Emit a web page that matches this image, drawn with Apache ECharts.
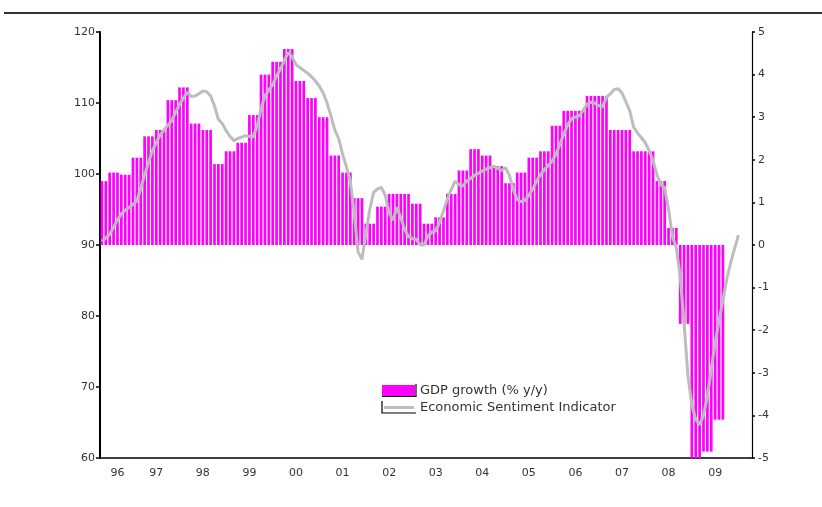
<!DOCTYPE html>
<html>
<head>
<meta charset="utf-8">
<script src="https://cdn.jsdelivr.net/npm/echarts@6/dist/echarts.min.js"></script>
<style>
html, body { margin: 0; padding: 0; background: #fff; }
#chart { width: 822px; height: 507px; }
</style>
</head>
<body>
<div id="chart"></div>
<script>
// Monthly axis: May 1996 .. Apr 2010
var firstYear = 1996, firstMonth = 5, monthCount = 168;

var yearLabels = ['96', '97', '98', '99', '00', '01', '02', '03', '04', '05', '06', '07', '08', '09'];

// GDP growth, % y/y, quarterly from Q2 1996 to Q3 2009 (right axis)
var gdpQuarterly = [
    1.5, 1.7, 1.65,
    2.05, 2.55, 2.7, 3.4,
    3.7, 2.85, 2.7, 1.9,
    2.2, 2.4, 3.05, 4.0,
    4.3, 4.6, 3.85, 3.45,
    3.0, 2.1, 1.7, 1.1,
    0.5, 0.9, 1.2, 1.2,
    0.97, 0.5, 0.65, 1.2,
    1.75, 2.25, 2.1, 1.85,
    1.45, 1.7, 2.05, 2.2,
    2.8, 3.15, 3.15, 3.5,
    3.5, 2.7, 2.7, 2.2,
    2.2, 1.5, 0.4, -1.85,
    -5.0, -4.85, -4.1
];

// Economic Sentiment Indicator, monthly from May 1996 to Jan 2010 (left axis)
var esiMonthly = [
    90.5, 91.0, 91.5, 92.5, 93.5, 94.4, 94.9, 95.3, 95.7, 96.2,
    98.0, 99.9, 101.6, 103.3, 104.4, 105.5, 106.2, 106.9, 107.5, 108.7,
    109.8, 110.7, 111.5, 110.9, 111.0, 111.3, 111.7, 111.6, 111.0, 109.6,
    107.7, 107.1, 106.1, 105.3, 104.7, 105.0, 105.2, 105.4, 105.3, 105.2,
    106.8, 109.2, 111.0, 111.8, 112.6, 113.8, 114.8, 116.0, 117.1, 116.5,
    115.4, 115.0, 114.6, 114.2, 113.7, 113.1, 112.4, 111.4, 110.0, 108.2,
    106.2, 105.0, 102.8, 101.0, 99.0, 94.5, 89.0, 88.0, 91.5, 95.0,
    97.4, 97.9, 98.1, 97.0, 94.5, 93.5, 95.3, 93.8, 92.2, 91.2,
    90.9, 90.8, 90.0, 90.0, 91.3, 91.8, 92.0, 93.2, 94.8, 96.5,
    97.8, 99.0, 98.5, 98.3, 99.0, 99.4, 99.8, 100.1, 100.4, 100.7,
    100.9, 101.1, 100.8, 100.5, 100.9, 99.8, 97.8, 96.4, 96.1, 96.3,
    97.0, 97.9, 99.0, 99.9, 100.6, 101.2, 101.8, 102.8, 104.2, 105.6,
    106.9, 107.8, 108.0, 108.2, 109.0, 109.8, 110.1, 110.0, 109.6, 109.5,
    110.8, 111.3, 111.9, 112.0, 111.4, 110.2, 108.9, 106.6, 105.8, 105.1,
    104.4, 103.3, 101.9, 99.9, 98.5, 98.1, 95.0, 91.2, 89.6, 85.5,
    79.0, 71.5, 67.5, 65.4, 64.7, 66.0, 68.7, 72.5, 76.2, 79.3,
    82.2, 85.2, 87.5, 89.5, 91.4
];

// month categories like '1996-05'
var months = [];
for (var i = 0; i < monthCount; i++) {
    var t = (firstMonth - 1) + i;
    var y = firstYear + Math.floor(t / 12);
    var m = (t % 12) + 1;
    months.push(y + '-' + (m < 10 ? '0' + m : m));
}

// each quarter's value shown for its months (first quarter only has May, Jun)
var gdpMonthly = [];
gdpQuarterly.forEach(function (v, q) {
    var n = q === 0 ? 2 : 3;
    for (var k = 0; k < n; k++) gdpMonthly.push(v);
});

// year label sits in the middle of the visible part of each year
var labelAt = {};
yearLabels.forEach(function (lab, k) {
    var yr = firstYear + k;
    labelAt[yr + (yr === firstYear ? '-09' : '-07')] = lab;
});

var myChart = echarts.init(document.getElementById('chart'));

var axisFont = { fontFamily: 'DejaVu Sans', fontSize: 11, color: '#333' };

var option = {
    animation: false,
    backgroundColor: '#fff',
    grid: { left: 100, right: 70, top: 32, bottom: 49 },
    legend: {
        orient: 'vertical',
        left: 382,
        top: 384,
        padding: 0,
        itemWidth: 33,
        itemHeight: 11,
        itemGap: 4,
        textStyle: { fontFamily: 'DejaVu Sans', fontSize: 13, color: '#333' },
        data: [
            { name: 'GDP growth (% y/y)', icon: 'rect' },
            {
                name: 'Economic Sentiment Indicator',
                icon: 'path://M0,0 L0.01,0 L0.01,0.01 Z M33,11 L32.99,11 L32.99,10.99 Z M2,4 L32,4 L32,7 L2,7 Z'
            }
        ]
    },
    graphic: [
        { type: 'line', shape: { x1: 4, y1: 13, x2: 822, y2: 13 }, style: { stroke: '#333', lineWidth: 2 } },
        { type: 'polyline', shape: { points: [[382, 396.5], [416, 396.5], [416, 384]] }, style: { stroke: '#000', lineWidth: 1.2, fill: null } },
        { type: 'polyline', shape: { points: [[382, 401], [382, 413], [416, 413]] }, style: { stroke: '#000', lineWidth: 1.2, fill: null } }
    ],
    xAxis: {
        type: 'category',
        data: months,
        boundaryGap: true,
        axisLine: { onZero: false, lineStyle: { color: '#000', width: 1.5 } },
        axisTick: {
            interval: function (i, v) { return v.slice(5) === '01'; },
            length: 4,
            lineStyle: { color: '#000', width: 1.5 }
        },
        axisLabel: Object.assign({
            interval: function (i, v) { return labelAt[v] !== undefined; },
            formatter: function (v) { return labelAt[v] || ''; },
            margin: 10
        }, axisFont),
        splitLine: { show: false }
    },
    yAxis: [
        {
            type: 'value',
            min: 60, max: 120, interval: 10,
            position: 'left',
            axisLine: { show: true, lineStyle: { color: '#000', width: 2 } },
            axisTick: { show: true, length: 4, lineStyle: { color: '#000', width: 1.5 } },
            axisLabel: Object.assign({ margin: 5 }, axisFont),
            splitLine: { show: false }
        },
        {
            type: 'value',
            min: -5, max: 5, interval: 1,
            position: 'right',
            axisLine: { show: true, lineStyle: { color: '#000', width: 1.2 } },
            axisTick: { show: true, length: 3, lineStyle: { color: '#000', width: 1.5 } },
            axisLabel: Object.assign({ margin: 6 }, axisFont),
            splitLine: { show: false }
        }
    ],
    series: [
        {
            name: 'GDP growth (% y/y)',
            type: 'bar',
            yAxisIndex: 1,
            data: gdpMonthly,
            barCategoryGap: '30%',
            itemStyle: { color: '#ff00ff', borderWidth: 0 }
        },
        {
            name: 'Economic Sentiment Indicator',
            type: 'line',
            yAxisIndex: 0,
            data: esiMonthly,
            showSymbol: false,
            symbol: 'none',
            itemStyle: { color: '#bdbdbd' },
            lineStyle: { color: '#bdbdbd', width: 3 }
        }
    ]
};

myChart.setOption(option);
</script>
</body>
</html>
